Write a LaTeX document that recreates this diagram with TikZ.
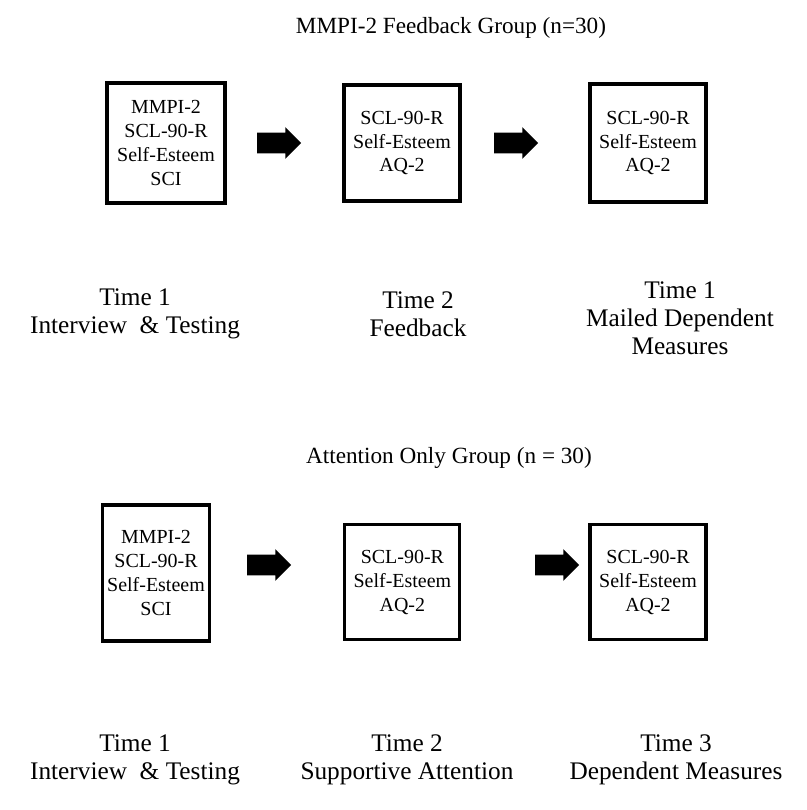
\documentclass[tikz,border=0pt]{standalone}
\usepackage{fontspec}
\setmainfont{Liberation Serif}
\usetikzlibrary{shapes,arrows,calc,positioning}
\tikzstyle{block} = [draw, line width=2.2pt, rectangle, align=center, font=\fontsize{14.2}{17}\selectfont]
\tikzstyle{fatarrow} = [fill=black, single arrow, minimum height=1.1cm, single arrow head extend=0.14cm, inner sep=0.25cm]
\tikzstyle{caption} = [align=center, font=\fontsize{18}{20}\selectfont]
\tikzstyle{heading} = [font=\fontsize{16.5}{20}\selectfont]

\begin{document}
\begin{tikzpicture}[node distance=5.9cm]
        \useasboundingbox (0,0) rectangle (20.175,-20.25);
        % MMPI-2 feedback group
        \node[heading] (fbtitle) at (11.275,-0.7) {MMPI-2 Feedback Group (n=30)};
        \node[block, minimum width=2.95cm, minimum height=3cm] (fbone) at (4.15,-3.575) {MMPI-2\\SCL-90-R\\Self-Esteem\\SCI};
        \node[block, minimum width=2.9cm, minimum height=2.9cm, right of=fbone] (fbtwo) {SCL-90-R\\Self-Esteem\\AQ-2};
        \node[block, minimum width=2.9cm, minimum height=2.95cm, right of=fbtwo, node distance=6.15cm] (fbthree) {SCL-90-R\\Self-Esteem\\AQ-2};
        \node[fatarrow] (fbarrowa) at ($(fbone)!0.5!(fbtwo)+(-0.25,0)$) {};
        \node[fatarrow] (fbarrowb) at ($(fbtwo)!0.5!(fbthree)+(-0.35,0)$) {};
        \node[caption] (fbtimeone) at (3.375,-7.85) {Time 1\\Interview\ \ \& Testing};
        \node[caption] (fbtimetwo) at (10.45,-7.85) {Time 2\\Feedback};
        \node[caption] (fbtimethree) at (17.0,-7.95) {Time 1\\Mailed Dependent\\Measures};

        % attention only group
        \node[heading] (attitle) at (11.225,-11.45) {Attention Only Group (n = 30)};
        \node[block, minimum width=2.6cm, minimum height=3.4cm] (atone) at (3.9,-14.325) {MMPI-2\\SCL-90-R\\Self-Esteem\\SCI};
        \node[block, minimum width=2.875cm, minimum height=2.875cm] (attwo) at (10.06,-14.56) {SCL-90-R\\Self-Esteem\\AQ-2};
        \node[block, minimum width=2.9cm, minimum height=2.875cm, right of=attwo, node distance=6.14cm] (atthree) {SCL-90-R\\Self-Esteem\\AQ-2};
        \node[fatarrow] (atarrowa) at (6.6,-14.125) {};
        \node[fatarrow] (atarrowb) at (13.8,-14.125) {};
        \node[caption] (attimeone) at (3.375,-18.99) {Time 1\\Interview\ \ \& Testing};
        \node[caption] (attimetwo) at (10.175,-18.99) {Time 2\\Supportive Attention};
        \node[caption] (attimethree) at (16.9,-18.99) {Time 3\\Dependent Measures};
\end{tikzpicture}
\end{document}
